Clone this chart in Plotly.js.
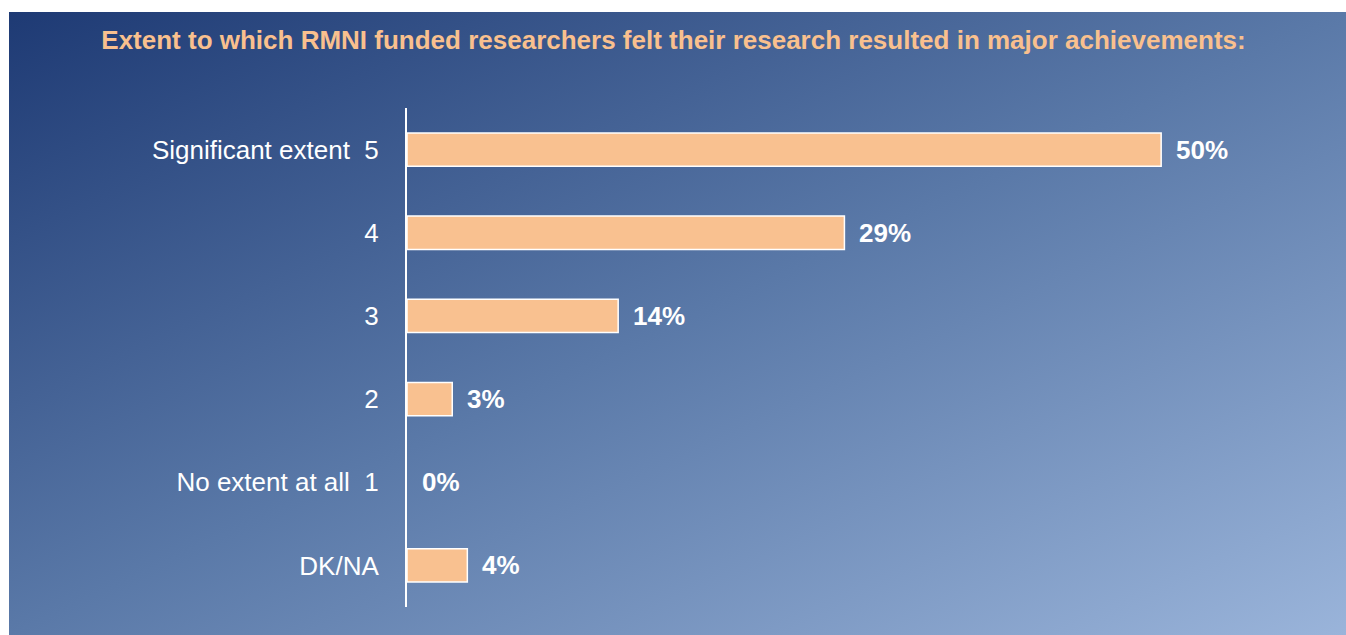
<!DOCTYPE html>
<html>
<head>
<meta charset="utf-8">
<script src="https://cdn.plot.ly/plotly-3.0.1.min.js"></script>
<style>
    body { margin: 0; background: #ffffff; }
    #wrap {
        position: absolute; left: 9px; top: 12px; width: 1337px; height: 623px;
        background: linear-gradient(to bottom right, #1e3a74 0%, #5a79a8 50%, #9ab4da 100%);
    }
</style>
</head>
<body>
<div id="wrap"><div id="chart"></div></div>
<script>
// survey answers, top row first
let categories = ['Significant extent\u00a0\u00a05', '4', '3', '2', 'No extent at all\u00a0\u00a01', 'DK/NA']
let shares = [50, 29, 14, 3, 0, 4]
let valueLabels = shares.map(v => v + '%')

let font = '"Liberation Sans Narrow", "Arial Narrow", "Liberation Sans", Arial, sans-serif'

document.addEventListener('DOMContentLoaded', () => {
    renderBars()
})

let renderBars = () => {
    let barTrace = {
        type: 'bar',
        orientation: 'h',
        x: shares,
        y: categories,
        marker: {
            color: '#f9c190',
            line: {color: '#ffffff', width: shares.map(v => v > 0 ? 1.5 : 0)}
        },
        hoverinfo: 'none'
    }

    // value labels next to each bar (y by category index, since '4','3','2' would be read as positions)
    let labels = shares.map((v, i) => ({
        x: v,
        y: i,
        text: '<b>' + valueLabels[i] + '</b>',
        showarrow: false,
        xanchor: 'left',
        xshift: 13,
        font: {family: font, size: 26, color: '#ffffff'}
    }))

    let layout = {
        width: 1337,
        height: 623,
        paper_bgcolor: 'rgba(0,0,0,0)',
        plot_bgcolor: 'rgba(0,0,0,0)',
        margin: {l: 398, r: 34, t: 96, b: 28},
        showlegend: false,
        bargap: 0.6,
        title: {
            text: '<b>Extent to which RMNI funded researchers felt their research resulted in major achievements:</b>',
            font: {family: font, size: 26, color: '#f9c08e'},
            x: 0.497,
            xanchor: 'center',
            xref: 'container',
            y: 1 - 28 / 623,
            yanchor: 'middle',
            yref: 'container'
        },
        xaxis: {
            range: [0, 60],
            visible: false,
            fixedrange: true
        },
        yaxis: {
            type: 'category',
            autorange: 'reversed',
            showline: true,
            linecolor: '#ffffff',
            linewidth: 2,
            showgrid: false,
            zeroline: false,
            ticks: '',
            ticklabelstandoff: 21,
            tickfont: {family: font, size: 26, color: '#ffffff'},
            fixedrange: true
        },
        annotations: labels
    }

    Plotly.newPlot('chart', [barTrace], layout, {displayModeBar: false, staticPlot: true})
}
</script>
</body>
</html>
